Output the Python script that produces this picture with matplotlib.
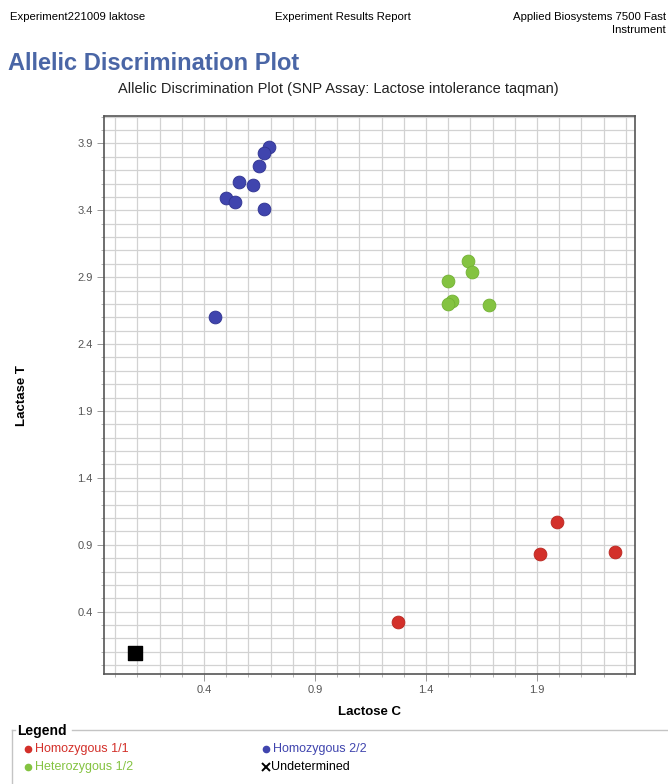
import numpy as np
import matplotlib
matplotlib.use("Agg")
import matplotlib.pyplot as plt
from matplotlib.ticker import FixedLocator, MultipleLocator
from matplotlib.lines import Line2D

plt.rcParams['font.family'] = ['Liberation Sans', 'DejaVu Sans']

# data (Lactose C, Lactase T)
hom22_x = [0.694, 0.672, 0.649, 0.558, 0.619, 0.499, 0.541, 0.670, 0.451]
hom22_y = [3.871, 3.830, 3.731, 3.609, 3.591, 3.492, 3.464, 3.412, 2.600]
het12_x = [1.588, 1.607, 1.498, 1.516, 1.500, 1.682]
het12_y = [3.021, 2.939, 2.871, 2.722, 2.700, 2.690]
hom11_x = [1.275, 1.913, 1.990, 2.250]
hom11_y = [0.324, 0.829, 1.068, 0.846]
undet_x = [0.089]
undet_y = [0.093]

x_ticks = [0.4, 0.9, 1.4, 1.9]
y_ticks = [0.4, 0.9, 1.4, 1.9, 2.4, 2.9, 3.4, 3.9]

legend_labels = ["Homozygous 1/1", "Heterozygous 1/2", "Homozygous 2/2", "Undetermined"]

RED = "#d3302a"
GREEN = "#84c341"
BLUE = "#4045ae"

W, H = 668, 784
fig = plt.figure(figsize=(W / 100, H / 100), dpi=100)

def fy(py):
    return 1 - py / H

def fx(px):
    return px / W

# header
fig.text(fx(10), fy(17), "Experiment221009 laktose", fontsize=8.2, va="center", ha="left")
fig.text(fx(343), fy(17), "Experiment Results Report", fontsize=8.2, va="center", ha="center")
fig.text(fx(666), fy(17), "Applied Biosystems 7500 Fast", fontsize=8.2, va="center", ha="right")
fig.text(fx(666), fy(30), "Instrument", fontsize=8.2, va="center", ha="right")

fig.text(fx(8), fy(63), "Allelic Discrimination Plot", fontsize=17, fontweight="bold",
         color="#4a66a6", va="center", ha="left")
fig.text(fx(338), fy(89), "Allelic Discrimination Plot (SNP Assay: Lactose intolerance taqman)",
         fontsize=10.5, va="center", ha="center", color="#222222")

# axes
left, right, top, bottom = 104, 635, 115.7, 674
ax = fig.add_axes([fx(left), fy(bottom), (right - left) / W, (bottom - top) / H])
ax.set_xlim(-0.050, 2.341)
ax.set_ylim(-0.066, 4.107)

ax.xaxis.set_major_locator(FixedLocator(x_ticks))
ax.yaxis.set_major_locator(FixedLocator(y_ticks))
ax.xaxis.set_minor_locator(MultipleLocator(0.1))
ax.yaxis.set_minor_locator(MultipleLocator(0.1))
ax.set_xticklabels([f"{v:.1f}" for v in x_ticks])
ax.set_yticklabels([f"{v:.1f}" for v in y_ticks])

ax.grid(which="both", color="#d2d2d2", linewidth=0.9, zorder=0)
ax.set_axisbelow(True)
ax.tick_params(which="major", length=5, width=0.6, color="#888888",
               labelsize=8, labelcolor="#555555", pad=3)
ax.tick_params(which="minor", length=2.5, width=0.6, color="#aaaaaa")
for s in ax.spines.values():
    s.set_color("#555555")
    s.set_linewidth(1.2)

ax.scatter(hom11_x, hom11_y, s=85, color=RED, edgecolors="#b82620", linewidths=0.6, zorder=3)
ax.scatter(het12_x, het12_y, s=85, color=GREEN, edgecolors="#72b133", linewidths=0.6, zorder=3)
ax.scatter(hom22_x, hom22_y, s=85, color=BLUE, edgecolors="#2f3390", linewidths=0.6, zorder=3)
ax.scatter(undet_x, undet_y, s=95, marker="s", color="black", zorder=3)

ax.set_xlabel("Lactose C", fontsize=9.5, fontweight="bold")
ax.set_ylabel("Lactase T", fontsize=9.5, fontweight="bold")
ax.xaxis.set_label_coords((370 - left) / (right - left), -(712 - bottom) / (bottom - top))
ax.yaxis.set_label_coords(-(left - 22) / (right - left), (bottom - 396) / (bottom - top))
ax.xaxis.label.set_va("center")
ax.yaxis.label.set_va("center")

# legend box
lc = "#c4c4c4"
fig.add_artist(Line2D([fx(11.7), fx(15)], [fy(730), fy(730)], color=lc, lw=1))
fig.add_artist(Line2D([fx(72), fx(668)], [fy(730), fy(730)], color=lc, lw=1))
fig.add_artist(Line2D([fx(11.7), fx(11.7)], [fy(730), fy(784)], color=lc, lw=1))
fig.text(fx(17), fy(731), "Legend", fontsize=10, fontweight="bold", va="center", ha="left")

rows = [(28, 749, RED, legend_labels[0]), (28, 767, GREEN, legend_labels[1]),
        (266, 749, BLUE, legend_labels[2])]
for px, py, c, lab in rows:
    fig.add_artist(Line2D([fx(px)], [fy(py)], marker="o", markersize=4.5, color=c, lw=0))
    fig.text(fx(px + 7), fy(py), lab, fontsize=9, color=c, va="center", ha="left")
fig.add_artist(Line2D([fx(266)], [fy(767)], marker="x", markersize=6, color="black",
                      mew=1.4, lw=0))
fig.text(fx(271), fy(767), legend_labels[3], fontsize=9, color="black", va="center", ha="left")

fig.savefig("out.png", dpi=100)
